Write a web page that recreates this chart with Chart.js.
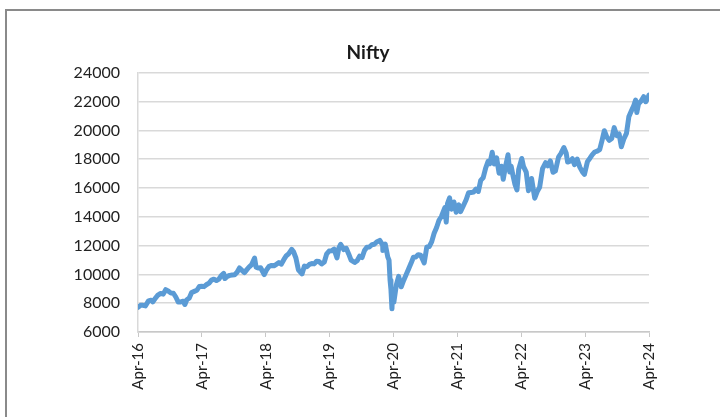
<!DOCTYPE html>
<html>
<head>
<meta charset="utf-8">
<script src="https://cdn.jsdelivr.net/npm/chart.js@4/dist/chart.umd.min.js"></script>
<style>
  html, body { margin: 0; padding: 0; background: #ffffff; overflow: hidden; }
  #wrap { position: relative; width: 720px; height: 417px; }
  #frame { position: absolute; left: 5px; top: 9px; width: 900px; height: 600px;
           border-left: 2px solid #8a8a8a; border-top: 2px solid #8a8a8a; box-sizing: border-box; }
  #c { position: absolute; left: 0; top: 0; }
</style>
</head>
<body>
<div id="wrap">
  <div id="frame"></div>
  <canvas id="c" width="720" height="417"></canvas>
</div>
<script>
const chartTitle = "Nifty";
const tickLabels = ["Apr-16","Apr-17","Apr-18","Apr-19","Apr-20","Apr-21","Apr-22","Apr-23","Apr-24"];
const yTicks = { min: 6000, max: 24000, step: 2000 };

const dates = [
"2016-04-01","2016-04-15","2016-04-29","2016-05-13","2016-05-31","2016-06-15","2016-06-24","2016-07-08","2016-07-22","2016-08-09","2016-08-24","2016-09-07","2016-09-23","2016-10-07","2016-10-21","2016-11-04","2016-11-18","2016-12-02","2016-12-16","2016-12-26",
"2017-01-06","2017-01-20","2017-02-03","2017-02-17","2017-03-03","2017-03-17","2017-03-31","2017-04-13","2017-04-28","2017-05-12","2017-05-26","2017-06-09","2017-06-23","2017-07-07","2017-07-21","2017-08-04","2017-08-11","2017-08-25","2017-09-08","2017-09-22","2017-10-06","2017-10-20","2017-11-03","2017-11-17","2017-12-01","2017-12-15","2017-12-29",
"2018-01-12","2018-01-29","2018-02-06","2018-02-16","2018-03-02","2018-03-23","2018-04-06","2018-04-20","2018-05-04","2018-05-18","2018-06-01","2018-06-15","2018-06-29","2018-07-13","2018-07-27","2018-08-10","2018-08-28","2018-09-07","2018-09-21","2018-10-05","2018-10-26","2018-11-09","2018-11-23","2018-12-07","2018-12-21",
"2019-01-04","2019-01-18","2019-02-01","2019-02-15","2019-03-01","2019-03-15","2019-03-29","2019-04-12","2019-04-26","2019-05-13","2019-05-24","2019-06-03","2019-06-21","2019-07-05","2019-07-19","2019-08-02","2019-08-23","2019-09-06","2019-09-20","2019-10-04","2019-10-18","2019-11-01","2019-11-15","2019-11-29","2019-12-13","2019-12-27",
"2020-01-14","2020-01-31","2020-02-01","2020-02-14","2020-02-28","2020-03-06","2020-03-12","2020-03-17","2020-03-23","2020-03-26","2020-04-03","2020-04-17","2020-04-30","2020-05-15","2020-05-29","2020-06-12","2020-06-26","2020-07-10","2020-07-24","2020-08-07","2020-08-21","2020-09-04","2020-09-24","2020-10-09","2020-10-23","2020-11-06","2020-11-20","2020-12-04","2020-12-18",
"2021-01-01","2021-01-21","2021-01-29","2021-02-05","2021-02-16","2021-02-26","2021-03-12","2021-03-25","2021-04-09","2021-04-19","2021-05-07","2021-05-21","2021-06-04","2021-06-18","2021-07-02","2021-07-16","2021-07-30","2021-08-13","2021-08-27","2021-09-10","2021-09-24","2021-10-04","2021-10-18","2021-10-29","2021-11-12","2021-11-26","2021-12-03","2021-12-10","2021-12-20","2021-12-31",
"2022-01-17","2022-01-27","2022-02-04","2022-02-14","2022-02-24","2022-03-07","2022-03-17","2022-04-04","2022-04-14","2022-04-29","2022-05-12","2022-05-30","2022-06-17","2022-07-01","2022-07-15","2022-08-01","2022-08-19","2022-09-01","2022-09-15","2022-09-30","2022-10-14","2022-11-01","2022-11-15","2022-12-01","2022-12-15","2022-12-23",
"2023-01-06","2023-01-20","2023-02-01","2023-02-15","2023-03-01","2023-03-17","2023-03-28","2023-04-14","2023-04-28","2023-05-12","2023-05-26","2023-06-09","2023-06-23","2023-07-07","2023-07-20","2023-08-04","2023-08-18","2023-09-01","2023-09-15","2023-09-29","2023-10-13","2023-10-26","2023-11-10","2023-11-24","2023-12-08","2023-12-22",
"2024-01-05","2024-01-16","2024-01-23","2024-02-02","2024-02-16","2024-03-01","2024-03-13","2024-03-28","2024-04-01"
];

const niftyValues = [
7710,7850,7850,7810,8160,8210,8090,8320,8540,8680,8630,8940,8830,8700,8690,8430,8080,8090,8140,7910,
8240,8350,8740,8820,8900,9160,9170,9150,9300,9400,9600,9670,9570,9670,9920,10070,9710,9860,9930,9960,9980,10150,10450,10280,10120,10330,10530,
10680,11130,10500,10450,10460,9990,10330,10560,10620,10600,10700,10820,10710,11020,11280,11430,11740,11590,11140,10320,10030,10580,10530,10690,10750,
10730,10910,10890,10720,10860,11430,11620,11640,11750,11150,11840,12090,11720,11810,11420,10990,10830,10950,11270,11170,11660,11890,11900,12060,12090,12250,
12360,12030,11660,12110,11200,10990,9590,8970,7610,8640,8080,9270,9860,9140,9580,9970,10380,10770,11190,11210,11370,11330,10800,11910,11930,12260,12860,13260,13760,
14020,14640,13630,14920,15310,14530,15030,14320,14830,14360,14820,15180,15670,15680,15720,15920,15760,16530,16710,17370,17850,17690,18480,17670,18100,17030,17200,17510,16610,17350,
18310,17110,17520,16840,16250,15860,17290,18050,17480,17100,15810,16660,15290,15750,16050,17340,17760,17540,17880,17090,17190,18140,18400,18810,18410,17800,
17860,18030,17620,18010,17450,17100,16950,17830,18070,18320,18500,18560,18670,19330,19980,19520,19310,19440,20190,19640,19750,18860,19430,19790,20970,21350,
21710,22100,21240,21850,22040,22340,21990,22330,22460
];

function monthsSinceStart(s) {
  const [y, m, d] = s.split("-").map(Number);
  const dim = new Date(y, m, 0).getDate();
  return (y - 2016) * 12 + (m - 4) + (d - 1) / dim;
}

const points = dates.map((d, i) => ({ x: monthsSinceStart(d), y: niftyValues[i] }));

new Chart(document.getElementById("c"), {
  type: "line",
  data: {
    datasets: [{
      data: points,
      borderColor: "#5B9BD5",
      borderWidth: 5,
      pointRadius: 0,
      tension: 0,
      fill: false,
      borderJoinStyle: "round",
      borderCapStyle: "round"
    }]
  },
  options: {
    responsive: false,
    animation: false,
    devicePixelRatio: 1,
    layout: { padding: { left: 16, right: 0, top: 0, bottom: 0 } },
    plugins: {
      legend: { display: false },
      tooltip: { enabled: false },
      title: {
        display: true,
        text: chartTitle,
        color: "#1a1a1a",
        font: { family: "Lato", size: 19, weight: "bold" },
        padding: { top: 41, bottom: 9 }
      }
    },
    scales: {
      x: {
        type: "linear",
        min: 0,
        max: (tickLabels.length - 1) * 12,
        afterFit: s => { s.height = 85; },
        ticks: {
          stepSize: 12,
          autoSkip: false,
          maxRotation: 90,
          minRotation: 90,
          padding: 6,
          color: "#222222",
          font: { family: "Lato", size: 15 },
          callback: v => tickLabels[Math.round(v / 12)]
        },
        grid: { drawOnChartArea: false, drawTicks: true, tickLength: 5, color: "#c8c8c8" },
        border: { display: true, color: "#c8c8c8", width: 1.5 }
      },
      y: {
        min: yTicks.min,
        max: yTicks.max,
        afterFit: s => { s.width = 122; },
        ticks: {
          stepSize: yTicks.step,
          padding: 18,
          color: "#222222",
          font: { family: "Lato", size: 16 },
          callback: v => String(v)
        },
        grid: { color: "#d9d9d9", lineWidth: 1.5, drawTicks: false },
        border: { display: true, color: "#d9d9d9", width: 1.5 }
      },
      yRight: {
        position: "right",
        display: true,
        afterFit: s => { s.width = 71; },
        ticks: { display: false },
        grid: { display: false },
        border: { display: false }
      }
    }
  }
});
</script>
</body>
</html>
